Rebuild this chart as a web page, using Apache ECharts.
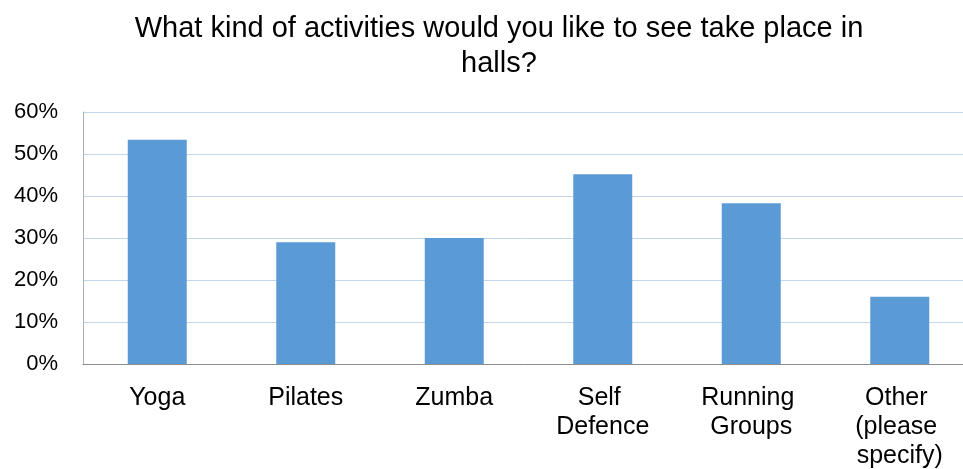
<!DOCTYPE html>
<html>
<head>
<meta charset="utf-8">
<script src="https://cdn.jsdelivr.net/npm/echarts@6/dist/echarts.min.js"></script>
<style>
  html, body { margin: 0; padding: 0; background: #ffffff; }
  #chart { width: 963px; height: 469px; }
</style>
</head>
<body>
<div id="chart"></div>
<script>
// Survey: preferred activities in halls (share of respondents, %)
const categories = ['Yoga', 'Pilates', 'Zumba', 'Self Defence', 'Running Groups', 'Other (please specify)'];
const shares = [53.4, 29.0, 30.0, 45.2, 38.3, 16.0];
const yTicks = { min: 0, max: 60, step: 10 };

const FONT = "'Liberation Sans', Arial, Helvetica, sans-serif";

const chart = echarts.init(document.getElementById('chart'), null, { renderer: 'canvas' });

chart.setOption({
  animation: false,
  backgroundColor: '#ffffff',
  title: {
    text: 'What kind of activities would you like to see take place in\nhalls?',
    left: 494,
    top: 6,
    textAlign: 'center',
    textStyle: {
      fontFamily: FONT,
      fontSize: 29,
      fontWeight: 'normal',
      color: '#000000',
      lineHeight: 35
    }
  },
  grid: {
    left: 83,
    top: 112,
    width: 891,
    height: 252,
    containLabel: false,
    outerBoundsMode: 'none'
  },
  xAxis: {
    type: 'category',
    data: categories,
    axisTick: { show: false },
    axisLine: { show: true, lineStyle: { color: '#8c8c8c', width: 1 } },
    axisLabel: {
      interval: 0,
      margin: 20,
      width: 110,
      overflow: 'break',
      fontFamily: FONT,
      fontSize: 25,
      lineHeight: 29,
      color: '#000000'
    }
  },
  yAxis: {
    type: 'value',
    min: yTicks.min,
    max: yTicks.max,
    interval: yTicks.step,
    axisLine: { show: true, lineStyle: { color: '#b0b0b0', width: 1 } },
    axisTick: { show: false },
    splitLine: { show: true, lineStyle: { color: '#c2d6f0', width: 1 } },
    axisLabel: {
      margin: 25,
      formatter: '{value}%',
      fontFamily: FONT,
      fontSize: 22,
      color: '#000000'
    }
  },
  series: [{
    type: 'bar',
    data: shares,
    barWidth: 59,
    itemStyle: { color: '#5b9bd5' }
  }]
});
</script>
</body>
</html>
